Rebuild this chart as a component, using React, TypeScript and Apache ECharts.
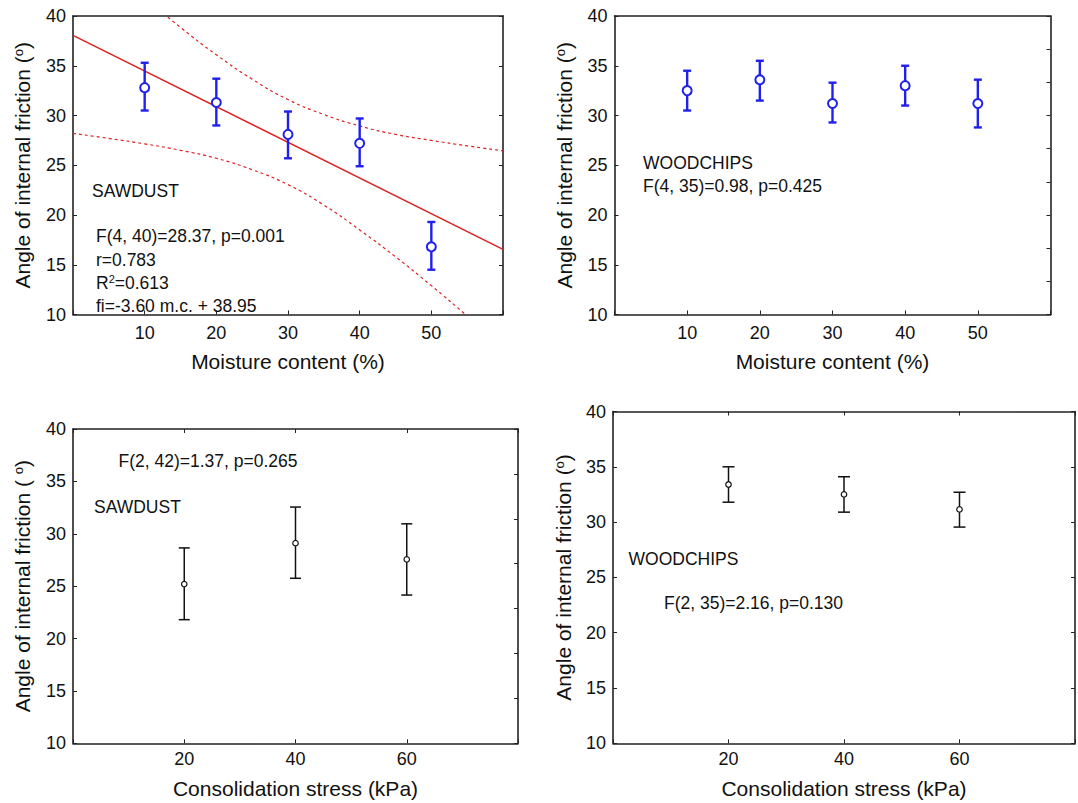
import React, { useEffect, useRef } from "react";
import * as echarts from "echarts";

// ---------- data ----------
const moistureX = [10, 20, 30, 40, 50];
const moistureTicks = [10, 20, 30, 40, 50];
const stressX = [20, 40, 60];
const stressTicks = [20, 40, 60];

const sawMoistMean = [32.8, 31.3, 28.1, 27.2, 16.8];
const sawMoistHigh = [35.3, 33.7, 30.4, 29.7, 19.3];
const sawMoistLow = [30.5, 29.0, 25.7, 24.9, 14.5];

const woodMoistMean = [32.5, 33.6, 31.2, 33.0, 31.2];
const woodMoistHigh = [34.5, 35.5, 33.3, 35.0, 33.6];
const woodMoistLow = [30.5, 31.5, 29.3, 31.0, 28.8];

const sawStressMean = [25.2, 29.1, 27.55];
const sawStressHigh = [28.65, 32.55, 30.95];
const sawStressLow = [21.8, 25.75, 24.15];

const woodStressMean = [33.4, 32.5, 31.15];
const woodStressHigh = [35.0, 34.1, 32.7];
const woodStressLow = [31.8, 30.9, 29.55];

// regression line and its confidence band
const fitX = [0, 60];
const fitY = [38.05, 16.55];
const upperBandX = [10, 15, 20, 25, 30, 35, 40, 45, 50, 55, 60];
const upperBandY = [41.8, 38.86, 36.1, 33.65, 31.6, 30.1, 28.95, 28.1, 27.5, 26.95, 26.45];
const lowerBandX = [0, 5, 10, 15, 20, 25, 30, 35, 40, 45, 50, 55, 60];
const lowerBandY = [28.2, 27.7, 27.15, 26.5, 25.7, 24.55, 23.05, 21.0, 18.5, 15.8, 12.9, 9.85, 6.75];

const yTicks = [10, 15, 20, 25, 30, 35, 40];

// ---------- styles ----------
const FONT = '"Liberation Sans", Arial, sans-serif';
const AXIS_COLOR = "#222";
const TEXT_COLOR = "#111";
const BLUE = "#2020ee";
const RED = "#dd2222";

const pairs = (xs: number[], ys: number[]) => xs.map((x, i) => [x, ys[i]]);

function errorBars(
  idx: number,
  xs: number[],
  lows: number[],
  highs: number[],
  color: string,
  width: number,
  cap: number
) {
  return {
    type: "custom",
    xAxisIndex: idx * 2,
    yAxisIndex: idx * 2,
    z: 3,
    data: xs.map((x, i) => [x, lows[i], highs[i]]),
    encode: { x: 0, y: [1, 2] },
    renderItem: (params: any, api: any) => {
      const x = api.value(0);
      const lo = api.value(1);
      const hi = api.value(2);
      const p1 = api.coord([x, hi]);
      const p2 = api.coord([x, lo]);
      const style = { stroke: color, lineWidth: width, fill: "none" };
      return {
        type: "group",
        children: [
          { type: "line", shape: { x1: p1[0], y1: p1[1], x2: p2[0], y2: p2[1] }, style },
          { type: "line", shape: { x1: p1[0] - cap, y1: p1[1], x2: p1[0] + cap, y2: p1[1] }, style },
          { type: "line", shape: { x1: p2[0] - cap, y1: p2[1], x2: p2[0] + cap, y2: p2[1] }, style },
        ],
      };
    },
  };
}

function means(idx: number, xs: number[], ys: number[], color: string, size: number, bw: number) {
  return {
    type: "scatter",
    xAxisIndex: idx * 2,
    yAxisIndex: idx * 2,
    z: 5,
    symbol: "circle",
    symbolSize: size,
    itemStyle: { color: "#fff", borderColor: color, borderWidth: bw, opacity: 1 },
    data: pairs(xs, ys),
  };
}

const lineStyle = { color: AXIS_COLOR, width: 1.6 };

function xAxes(
  idx: number,
  max: number,
  interval: number,
  ticks: number[],
  name: string,
  nameGap: number,
  labelMargin: number,
  topTicks: boolean
) {
  return [
    {
      gridIndex: idx,
      type: "value",
      position: "bottom",
      min: 0,
      max,
      interval,
      axisLine: { show: true, onZero: false, lineStyle },
      axisTick: { show: true, inside: true, length: 4, lineStyle: { color: AXIS_COLOR, width: 1 } },
      splitLine: { show: false },
      axisLabel: {
        margin: labelMargin,
        fontSize: 18,
        fontFamily: FONT,
        color: TEXT_COLOR,
        formatter: (v: number) => (ticks.includes(v) ? String(v) : ""),
      },
      name,
      nameLocation: "middle",
      nameGap,
      nameTextStyle: { fontSize: 21, fontFamily: FONT, color: TEXT_COLOR },
    },
    {
      gridIndex: idx,
      type: "value",
      position: "top",
      min: 0,
      max,
      interval,
      axisLine: { show: true, onZero: false, lineStyle },
      axisTick: { show: topTicks, inside: true, length: 4, lineStyle: { color: AXIS_COLOR, width: 1 } },
      splitLine: { show: false },
      axisLabel: { show: false },
    },
  ];
}

function yAxes(idx: number, name: string, nameGap: number, rightInterval: number) {
  return [
    {
      gridIndex: idx,
      type: "value",
      position: "left",
      min: 10,
      max: 40,
      interval: 5,
      axisLine: { show: true, onZero: false, lineStyle },
      axisTick: { show: true, inside: true, length: 4, lineStyle: { color: AXIS_COLOR, width: 1 } },
      splitLine: { show: false },
      axisLabel: {
        margin: 7,
        fontSize: 18,
        fontFamily: FONT,
        color: TEXT_COLOR,
        formatter: (v: number) => (yTicks.includes(v) ? String(v) : ""),
      },
      name,
      nameLocation: "middle",
      nameGap,
      nameTextStyle: {
        fontSize: 21,
        fontFamily: FONT,
        color: TEXT_COLOR,
        rich: { sup: { fontSize: 13, fontFamily: FONT, color: TEXT_COLOR, verticalAlign: "top" } },
      },
    },
    {
      gridIndex: idx,
      type: "value",
      position: "right",
      min: 10,
      max: 40,
      interval: rightInterval,
      axisLine: { show: true, onZero: false, lineStyle },
      axisTick: { show: true, inside: true, length: 4, lineStyle: { color: AXIS_COLOR, width: 1 } },
      splitLine: { show: false },
      axisLabel: { show: false },
    },
  ];
}

function label(text: string, x: number, y: number, size = 17.5) {
  return {
    type: "text",
    x,
    y,
    z: 10,
    style: {
      text,
      fontSize: size,
      fontFamily: FONT,
      fill: TEXT_COLOR,
      verticalAlign: "middle",
      align: "left",
      rich: { sup: { fontSize: 11, fontFamily: FONT, fill: TEXT_COLOR, verticalAlign: "top" } },
    },
  };
}

export default function App() {
  const ref = useRef<HTMLDivElement>(null);
  useEffect(() => {
    if (!ref.current) return;
    const chart = echarts.init(ref.current, undefined, { renderer: "svg" });
    const yName = "Angle of internal friction ({sup|o})";
    const yName3 = "Angle of internal friction ( {sup|o})";
    chart.setOption({
      animation: false,
      backgroundColor: "#fff",
      grid: [
        { left: 73, top: 16, width: 430, height: 298.5 },
        { left: 614.5, top: 16, width: 436, height: 298.5 },
        { left: 73, top: 429, width: 445, height: 314.3 },
        { left: 613, top: 411.5, width: 471, height: 331.8 },
      ],
      xAxis: [
        ...xAxes(0, 60, 10, moistureTicks, "Moisture content (%)", 36, 9, false),
        ...xAxes(1, 60, 10, moistureTicks, "Moisture content (%)", 36, 9, false),
        ...xAxes(2, 80, 20, stressTicks, "Consolidation stress (kPa)", 35, 7, true),
        ...xAxes(3, 80, 20, stressTicks, "Consolidation stress (kPa)", 35, 7, true),
      ],
      yAxis: [
        ...yAxes(0, yName, 40, 5),
        ...yAxes(1, yName, 40, 10 / 3),
        ...yAxes(2, yName3, 40, 30 / 7),
        ...yAxes(3, yName, 39, 5),
      ],
      series: [
        {
          type: "line",
          xAxisIndex: 0,
          yAxisIndex: 0,
          data: pairs(fitX, fitY),
          showSymbol: false,
          symbol: "none",
          clip: true,
          lineStyle: { color: RED, width: 1.5 },
          z: 2,
        },
        {
          type: "line",
          xAxisIndex: 0,
          yAxisIndex: 0,
          data: pairs(upperBandX, upperBandY),
          showSymbol: false,
          symbol: "none",
          smooth: true,
          clip: true,
          lineStyle: { color: RED, width: 1.2, type: [3, 3] },
          z: 2,
        },
        {
          type: "line",
          xAxisIndex: 0,
          yAxisIndex: 0,
          data: pairs(lowerBandX, lowerBandY),
          showSymbol: false,
          symbol: "none",
          smooth: true,
          clip: true,
          lineStyle: { color: RED, width: 1.2, type: [3, 3] },
          z: 2,
        },
        errorBars(0, moistureX, sawMoistLow, sawMoistHigh, BLUE, 2.4, 4),
        means(0, moistureX, sawMoistMean, BLUE, 9, 2),
        errorBars(1, moistureX, woodMoistLow, woodMoistHigh, BLUE, 2.4, 4),
        means(1, moistureX, woodMoistMean, BLUE, 9, 2),
        errorBars(2, stressX, sawStressLow, sawStressHigh, "#111", 1.5, 5.5),
        means(2, stressX, sawStressMean, "#111", 5.5, 1.2),
        errorBars(3, stressX, woodStressLow, woodStressHigh, "#111", 1.5, 6),
        means(3, stressX, woodStressMean, "#111", 5.5, 1.2),
      ],
      graphic: [
        label("SAWDUST", 92, 191),
        label("F(4, 40)=28.37, p=0.001", 96, 236),
        label("r=0.783", 96, 259.5),
        label("R{sup|2}=0.613", 96, 282.5),
        label("fi=-3.60 m.c. + 38.95", 96, 305.5),
        label("WOODCHIPS", 643, 162.5),
        label("F(4, 35)=0.98, p=0.425", 643, 186),
        label("F(2, 42)=1.37, p=0.265", 118.5, 461),
        label("SAWDUST", 94, 507),
        label("WOODCHIPS", 628.5, 559),
        label("F(2, 35)=2.16, p=0.130", 664, 602.5),
      ],
    });
    return () => chart.dispose();
  }, []);
  return (
    <div
      ref={ref}
      style={{ position: "absolute", left: 0, top: 0, width: 1078, height: 803, background: "#fff" }}
    />
  );
}
